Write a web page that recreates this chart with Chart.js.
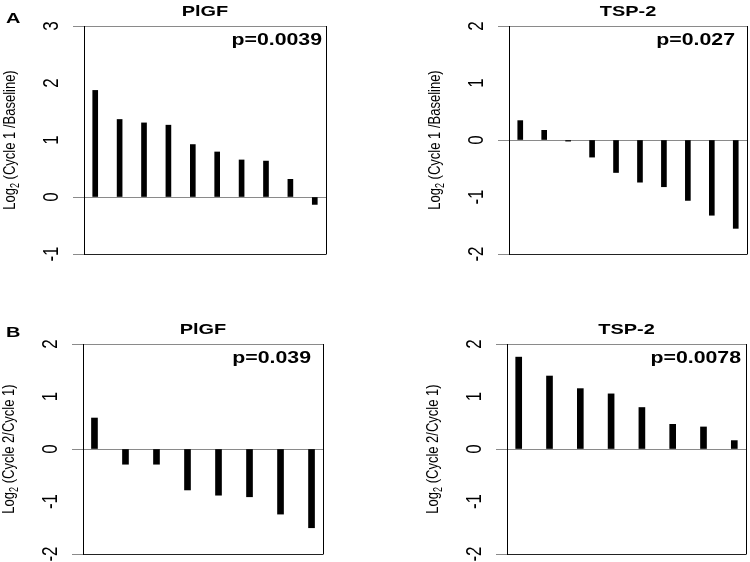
<!DOCTYPE html>
<html>
<head>
<meta charset="utf-8">
<script src="https://cdn.jsdelivr.net/npm/chart.js@4.4.0/dist/chart.umd.min.js"></script>
<style>
  body { margin: 0; background: #fff; }
  #wrap { position: relative; width: 750px; height: 562px; }
  canvas { position: absolute; }
</style>
</head>
<body>
<div id="wrap">
  <canvas id="a1" width="375" height="281" style="left:0;top:0"></canvas>
  <canvas id="a2" width="375" height="281" style="left:375px;top:0"></canvas>
  <canvas id="b1" width="375" height="281" style="left:0;top:281px"></canvas>
  <canvas id="b2" width="375" height="281" style="left:375px;top:281px"></canvas>
</div>
<script>
// values (log2 ratios, one bar per patient)
const plgfCycle1 = [1.87, 1.36, 1.30, 1.26, 0.92, 0.79, 0.65, 0.63, 0.31, -0.13]
const tsp2Cycle1 = [0.34, 0.17, -0.02, -0.30, -0.57, -0.74, -0.82, -1.06, -1.32, -1.55]
const plgfCycle2 = [0.59, -0.29, -0.29, -0.78, -0.88, -0.91, -1.24, -1.50]
const tsp2Cycle2 = [1.75, 1.39, 1.15, 1.05, 0.79, 0.47, 0.42, 0.16]

const ticksA1 = [-1, 0, 1, 2, 3]
const ticksOther = [-2, -1, 0, 1, 2]

const titles = ['PlGF', 'TSP-2', 'PlGF', 'TSP-2']
const pValues = ['p=0.0039', 'p=0.027', 'p=0.039', 'p=0.0078']
const yTitleA = ' (Cycle 1 /Baseline)'
const yTitleB = ' (Cycle 2/Cycle 1)'

const SX = 1.33   // the original figure is stretched sideways
const FONT = '"Liberation Sans", Arial, sans-serif'
const GRAY = '#8a8a8a'

function stretchText(ctx, text, x, y, align) {
  ctx.save()
  ctx.translate(x, y)
  ctx.scale(SX, 1)
  ctx.textAlign = align
  ctx.fillText(text, 0, 0)
  ctx.restore()
}

const panelText = {
  id: 'panelText',
  afterDraw(chart) {
    const o = chart.options.plugins.panelText
    const ctx = chart.ctx
    const a = chart.chartArea
    const ys = chart.scales.y
    ctx.save()
    ctx.fillStyle = '#000'
    ctx.textBaseline = 'alphabetic'

    // right side of the box
    ctx.strokeStyle = '#000'
    ctx.lineWidth = 1
    ctx.beginPath()
    ctx.moveTo(Math.round(a.right) + 0.5, a.top)
    ctx.lineTo(Math.round(a.right) + 0.5, a.bottom + 0.5)
    ctx.stroke()

    ctx.font = 'bold 15px ' + FONT
    stretchText(ctx, o.title, (a.left + a.right) / 2, a.top - 10.5, 'center')
    if (o.letter) stretchText(ctx, o.letter, 6, o.letterY, 'left')
    ctx.font = 'bold 16px ' + FONT
    stretchText(ctx, o.p, a.right - o.pRight, a.top + 18.5, 'right')

    // tick labels, rotated
    ctx.font = '17px ' + FONT
    ctx.textBaseline = 'middle'
    o.ticks.forEach(v => {
      ctx.save()
      ctx.translate(a.left - 32, ys.getPixelForValue(v))
      ctx.scale(SX, 1)
      ctx.rotate(-Math.PI / 2)
      ctx.textAlign = 'center'
      ctx.fillText(String(v), 0, 0)
      ctx.restore()
    })

    // axis title with subscript
    ctx.save()
    ctx.translate(a.left - 75, (a.top + a.bottom) / 2)
    ctx.scale(SX, 1)
    ctx.rotate(-Math.PI / 2)
    ctx.textBaseline = 'alphabetic'
    ctx.textAlign = 'left'
    ctx.font = '13px ' + FONT
    const w1 = ctx.measureText('Log').width
    const w3 = ctx.measureText(o.yTitle).width
    ctx.font = '9px ' + FONT
    const w2 = ctx.measureText('2').width
    let x = -(w1 + w2 + w3) / 2
    ctx.font = '13px ' + FONT
    ctx.fillText('Log', x, 4.5)
    ctx.font = '9px ' + FONT
    ctx.fillText('2', x + w1, 7.5)
    ctx.font = '13px ' + FONT
    ctx.fillText(o.yTitle, x + w1 + w2, 4.5)
    ctx.restore()

    ctx.restore()
  }
}

function makePanel(id, values, ticks, pad, yWidth, xPad, barWidth, text) {
  new Chart(document.getElementById(id), {
    type: 'bar',
    data: {
      datasets: [{
        data: values.map((v, i) => ({ x: i, y: v })),
        backgroundColor: '#000',
        borderWidth: 0,
        barThickness: barWidth
      }]
    },
    options: {
      responsive: false,
      animation: false,
      layout: { padding: pad },
      plugins: { legend: { display: false }, tooltip: { enabled: false }, panelText: text },
      scales: {
        x: {
          type: 'linear',
          display: false,
          offset: false,
          grid: { offset: false },
          min: -xPad,
          max: values.length - 1 + xPad
        },
        y: {
          min: ticks[0],
          max: ticks[ticks.length - 1],
          ticks: { display: false, stepSize: 1 },
          afterFit: s => { s.width = yWidth },
          border: { color: '#000', width: 1 },
          grid: {
            tickLength: 11,
            color: c => c.tick.value === ticks[0] ? '#222' : (c.tick.value === 0 || c.tick.value === ticks[ticks.length - 1]) ? GRAY : 'rgba(0,0,0,0)',
            tickColor: c => (c.tick.value === 0 || c.tick.value === ticks[0] || c.tick.value === ticks[ticks.length - 1]) ? GRAY : 'rgba(0,0,0,0)'
          }
        }
      }
    },
    plugins: [panelText]
  })
}

makePanel('a1', plgfCycle1, ticksA1, { left: 0, top: 26, right: 49, bottom: 27 }, 84, 0.46, 5,
  { title: titles[0], p: pValues[0], pRight: 4, ticks: ticksA1, yTitle: yTitleA, letter: 'A', letterY: 23 })
makePanel('a2', tsp2Cycle1, ticksOther, { left: 50, top: 26, right: 3, bottom: 27 }, 84, 0.47, 5,
  { title: titles[1], p: pValues[1], pRight: 12, ticks: ticksOther, yTitle: yTitleA })
makePanel('b1', plgfCycle2, ticksOther, { left: 0, top: 63, right: 52, bottom: 8 }, 83, 0.37, 6,
  { title: titles[2], p: pValues[2], pRight: 12, ticks: ticksOther, yTitle: yTitleB, letter: 'B', letterY: 56 })
makePanel('b2', tsp2Cycle2, ticksOther, { left: 48, top: 63, right: 4, bottom: 8 }, 84, 0.38, 6,
  { title: titles[3], p: pValues[3], pRight: 5, ticks: ticksOther, yTitle: yTitleB })
</script>
</body>
</html>
